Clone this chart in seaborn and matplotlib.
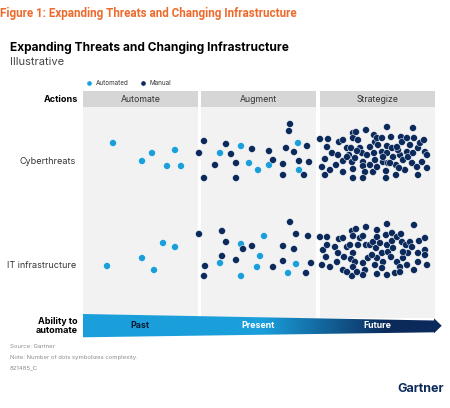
import numpy as np
import pandas as pd
import seaborn as sns
import matplotlib.pyplot as plt
from matplotlib.patches import Rectangle, Polygon
from matplotlib.colors import LinearSegmentedColormap

# ---- data (positions, in chart pixel space) ----
stages = ["Automate", "Augment", "Strategize"]
stage_left = [83, 201, 320]
stage_right = [198, 316, 435]
rows = ["Cyberthreats", "IT infrastructure"]
row_pos = [161, 265]
arrow_labels = ["Past", "Present", "Future"]

cyber_auto_x = [113, 142, 152, 175, 167, 181, 220, 241, 249, 258, 269, 298, 299]
cyber_auto_y = [143, 161, 153, 150, 166, 166, 153, 146, 163, 170, 165, 143, 170]
cyber_manual_x = [204, 199, 204, 226, 231, 215, 236, 236, 252, 269, 273, 283, 283, 290, 289,
                  286, 294, 307, 299, 309, 304,
                  320, 328, 327, 332, 325, 322, 325, 330, 336, 338, 339, 343, 343, 343, 347,
                  351, 349, 353, 353, 356, 352, 355, 353, 353, 358, 360, 362, 363, 363, 365,
                  363, 366, 370, 374, 375, 374, 375, 373, 378, 377, 382, 383, 387, 387, 387,
                  388, 386, 386, 391, 392, 393, 396, 396, 401, 402, 400, 398, 403, 405, 407,
                  408, 410, 412, 413, 414, 413, 417, 418, 418, 420, 424, 425, 427, 427, 422,
                  377, 382, 390, 399, 370, 347, 357, 367, 407, 397, 383]
cyber_manual_y = [141, 153, 178, 144, 154, 165, 163, 178, 149, 151, 160, 164, 175, 124, 131,
                  148, 152, 146, 161, 162, 175,
                  139, 139, 147, 153, 159, 167, 175, 170, 165, 155, 142, 140, 161, 172, 148,
                  148, 155, 133, 138, 132, 162, 158, 169, 178, 140, 148, 153, 162, 166, 172,
                  178, 130, 147, 135, 142, 153, 160, 172, 145, 167, 152, 162, 127, 146, 153,
                  163, 171, 178, 137, 148, 157, 165, 175, 137, 142, 155, 150, 160, 170, 152,
                  157, 145, 163, 128, 138, 153, 167, 148, 175, 143, 140, 152, 155, 168, 162,
                  138, 138, 163, 168, 165, 157, 151, 155, 138, 147, 157]

it_auto_x = [107, 142, 154, 163, 175, 220, 241, 264, 260, 257, 241, 296, 288]
it_auto_y = [266, 258, 270, 243, 247, 263, 244, 236, 256, 267, 276, 264, 273]
it_manual_x = [199, 205, 204, 222, 226, 222, 243, 236, 252, 273, 283, 283, 290, 296, 294,
               308, 311, 306,
               320, 327, 323, 327, 326, 322, 330, 335, 338, 337, 339, 343, 343, 344, 347,
               350, 352, 356, 353, 353, 351, 355, 353, 352, 358, 360, 363, 366, 366, 363,
               365, 363, 368, 370, 373, 377, 376, 377, 375, 377, 377, 380, 382, 383, 386,
               387, 387, 388, 387, 392, 391, 392, 393, 395, 397, 397, 400, 401, 400, 402,
               403, 406, 408, 407, 410, 412, 414, 414, 418, 419, 425, 425, 425, 427, 418,
               403, 382, 372, 357, 347]
it_manual_y = [234, 266, 276, 231, 242, 256, 249, 260, 246, 267, 246, 261, 222, 234, 249,
               236, 263, 273,
               237, 237, 250, 245, 257, 265, 267, 247, 253, 262, 239, 238, 270, 257, 247,
               245, 231, 229, 236, 253, 259, 262, 267, 276, 245, 238, 236, 227, 245, 263,
               270, 275, 258, 245, 242, 230, 248, 237, 265, 258, 274, 243, 253, 262, 235,
               224, 245, 252, 275, 233, 257, 241, 248, 273, 237, 262, 267, 234, 272, 242,
               258, 245, 253, 265, 242, 247, 225, 270, 253, 241, 238, 250, 255, 265, 262,
               252, 268, 255, 272, 272]

light_blue = "#1a9fdb"
navy = "#0b2a5b"
orange = "#ee6a2c"

dots = pd.concat([
    pd.DataFrame({"x": cyber_auto_x, "y": cyber_auto_y, "type": "Automated"}),
    pd.DataFrame({"x": it_auto_x, "y": it_auto_y, "type": "Automated"}),
    pd.DataFrame({"x": cyber_manual_x, "y": cyber_manual_y, "type": "Manual"}),
    pd.DataFrame({"x": it_manual_x, "y": it_manual_y, "type": "Manual"}),
], ignore_index=True)

sns.set_theme(style="white")
plt.rcParams['font.family'] = ['Inter', 'DejaVu Sans']

W, H = 450, 408
fig = plt.figure(figsize=(W / 100, H / 100), dpi=100)

# main panel area in pixels: x 83..435, y 91..318
ax = fig.add_axes([83 / W, 1 - 318 / H, (435 - 83) / W, (318 - 91) / H])
ax.set_xlim(83, 435)
ax.set_ylim(318, 91)

for left, right, name in zip(stage_left, stage_right, stages):
    ax.add_patch(Rectangle((left, 107), right - left, 211, color="#f2f2f2", zorder=0, lw=0))
    ax.add_patch(Rectangle((left, 91), right - left, 16, color="#d6d6d6", zorder=0, lw=0))
    ax.text((left + right) / 2, 99.5, name, ha="center", va="center", fontsize=6.3, color="#333333")

sns.scatterplot(data=dots, x="x", y="y", hue="type", palette={"Automated": light_blue, "Manual": navy},
                s=25, linewidth=0.35, edgecolor="white", ax=ax, zorder=3)

ax.set_yticks(row_pos)
ax.set_yticklabels(rows, fontsize=6.5, color="#333333")
ax.tick_params(axis="y", length=0, pad=5)
ax.set_xticks([])
ax.set_xlabel("")
ax.set_ylabel("")
for s in ax.spines.values():
    s.set_visible(False)

leg = ax.legend(loc="lower left", bbox_to_anchor=(0.0, 1.02), ncol=2, frameon=False,
                fontsize=4.5, handletextpad=0.1, columnspacing=1.2, markerscale=0.75,
                borderaxespad=0, borderpad=0)
for t in leg.get_texts():
    t.set_color("#333333")

# decoration layer in pixel space
deco = fig.add_axes([0, 0, 1, 1], zorder=5)
deco.set_xlim(0, W)
deco.set_ylim(H, 0)
deco.axis("off")
deco.patch.set_alpha(0)

# arrow with gradient
arrow = Polygon([(83, 314), (434, 320.5), (434, 318.3), (441.7, 325.7), (434, 333.3),
                 (434, 332.3), (83, 337.3)], closed=True, facecolor="none", edgecolor="none")
deco.add_patch(arrow)
cmap = LinearSegmentedColormap.from_list("ab", [(0, light_blue), (0.5, light_blue), (0.85, navy), (1, navy)])
grad = np.linspace(0, 1, 400).reshape(1, -1)
img = deco.imshow(grad, cmap=cmap, extent=(83, 442, 338, 313), aspect="auto", zorder=4)
img.set_clip_path(arrow)
deco.set_xlim(0, W)
deco.set_ylim(H, 0)

for xpos, lab, col in zip([140, 258, 377], arrow_labels, ["#0a1a33", "white", "white"]):
    deco.text(xpos, 326, lab, ha="center", va="center", fontsize=6.3, fontweight="bold", color=col, zorder=6)

deco.text(78, 99, "Actions", ha="right", va="center", fontsize=6.5, fontweight="bold", color="black")
deco.text(78, 326, "Ability to\nautomate", ha="right", va="center", fontsize=6.5, fontweight="bold",
          color="black", linespacing=1.1)

deco.text(0, 14, "Figure 1: Expanding Threats and Changing Infrastructure", ha="left", va="center",
          fontsize=8.4, fontweight="bold", color=orange, family=["Roboto", "DejaVu Sans"])
deco.text(10, 48, "Expanding Threats and Changing Infrastructure", ha="left", va="center",
          fontsize=8.6, fontweight="bold", color="black")
deco.text(10, 62, "Illustrative", ha="left", va="center", fontsize=8, color="#444444")

deco.text(10, 346, "Source: Gartner", ha="left", va="center", fontsize=4.3, color="#8c8c8c")
deco.text(10, 357, "Note: Number of dots symbolizes complexity.", ha="left", va="center", fontsize=4.3, color="#8c8c8c")
deco.text(10, 368, "821485_C", ha="left", va="center", fontsize=4.3, color="#8c8c8c")
deco.text(444, 389, "Gartner", ha="right", va="center", fontsize=9, fontweight="bold", color=navy)

fig.savefig("out.png", dpi=100)
